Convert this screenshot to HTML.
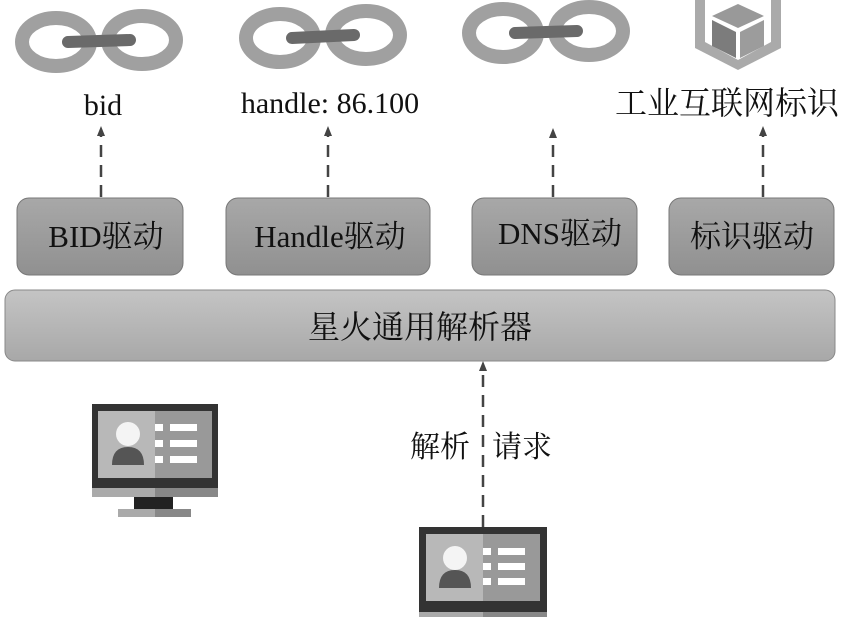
<!DOCTYPE html>
<html><head><meta charset="utf-8"><style>
html,body{margin:0;padding:0;background:#fff;}
svg{display:block;}
text{font-family:"Liberation Serif","Noto Serif CJK SC",serif;fill:#111;}
</style></head><body>
<svg width="848" height="617" viewBox="0 0 848 617" xmlns="http://www.w3.org/2000/svg">
<defs>
<linearGradient id="bx" x1="0" y1="0" x2="0" y2="1"><stop offset="0" stop-color="#a8a8a8"/><stop offset="1" stop-color="#909090"/></linearGradient>
<linearGradient id="bar" x1="0" y1="0" x2="0" y2="1"><stop offset="0" stop-color="#c4c4c4"/><stop offset="1" stop-color="#a8a8a8"/></linearGradient>
<marker id="ah" markerUnits="userSpaceOnUse" markerWidth="10" markerHeight="10" refX="5" refY="5" orient="auto"><path d="M0,1 L10,5 L0,9 z" fill="#444"/></marker>
</defs>
<!-- chains -->
<g fill="none" stroke="#a0a0a0" stroke-width="14">
<ellipse cx="56" cy="42" rx="34" ry="24"/><ellipse cx="142" cy="40" rx="34" ry="24"/>
<ellipse cx="280" cy="38" rx="34" ry="24"/><ellipse cx="366" cy="35" rx="34" ry="24"/>
<ellipse cx="503" cy="33" rx="34" ry="24"/><ellipse cx="589" cy="31" rx="34" ry="24"/>
</g>
<g stroke="#6a6a6a" stroke-width="12" stroke-linecap="round">
<line x1="68" y1="42" x2="130" y2="40"/><line x1="292" y1="38" x2="354" y2="35"/><line x1="515" y1="33" x2="577" y2="31"/>
</g>
<!-- cube -->
<g>
<polygon points="695,0 781,0 781,48 738,70 695,48" fill="#aaa"/>
<polygon points="705,0 771,0 771,42 738,60 705,42" fill="#fff"/>
<polygon points="712,16 738,4 764,16 738,28" fill="#999"/>
<polygon points="712,20 736,32 736,58 712,46" fill="#7c7c7c"/>
<polygon points="740,32 764,20 764,46 740,58" fill="#9c9c9c"/>
</g>
<!-- labels -->
<text x="103" y="115" font-size="30" text-anchor="middle">bid</text>
<text x="330" y="113" font-size="30" text-anchor="middle">handle: 86.100</text>
<text x="727" y="114" font-size="32" text-anchor="middle">工业互联网标识</text>
<!-- arrows -->
<g stroke="#444" stroke-width="2.5" stroke-dasharray="12,8" marker-end="url(#ah)">
<line x1="101" y1="197" x2="101" y2="131"/>
<line x1="328" y1="197" x2="328" y2="131"/>
<line x1="553" y1="197" x2="553" y2="133"/>
<line x1="763" y1="197" x2="763" y2="131"/>
<line x1="483" y1="527" x2="483" y2="366"/>
</g>
<!-- driver boxes -->
<g fill="url(#bx)" stroke="#777" stroke-width="1">
<rect x="17" y="198" width="166" height="77" rx="12"/>
<rect x="226" y="198" width="204" height="77" rx="12"/>
<rect x="472" y="198" width="165" height="77" rx="12"/>
<rect x="669" y="198" width="165" height="77" rx="12"/>
</g>
<g font-size="31" text-anchor="middle">
<text x="106" y="247">BID驱动</text>
<text x="330" y="247">Handle驱动</text>
<text x="560" y="244">DNS驱动</text>
<text x="752" y="247">标识驱动</text>
</g>
<rect x="5" y="290" width="830" height="71" rx="10" fill="url(#bar)" stroke="#888"/>
<text x="420" y="338" font-size="32" text-anchor="middle">星火通用解析器</text>
<!-- label -->
<text x="440" y="457" font-size="30" text-anchor="middle">解析</text>
<text x="522" y="457" font-size="30" text-anchor="middle">请求</text>
<!-- monitor 1 -->
<g>
<rect x="92" y="404" width="126" height="84" fill="#333"/>
<rect x="98" y="411" width="57" height="67" fill="#b8b8b8"/>
<rect x="155" y="411" width="57" height="67" fill="#999"/>
<rect x="92" y="488" width="63" height="9" fill="#aaa"/><rect x="155" y="488" width="63" height="9" fill="#888"/>
<rect x="134" y="497" width="39" height="12" fill="#222"/>
<rect x="118" y="509" width="37" height="8" fill="#aaa"/><rect x="155" y="509" width="36" height="8" fill="#888"/>
<circle cx="128" cy="434" r="12" fill="#f4f4f4"/>
<path d="M112,465 q0,-18 16,-18 q16,0 16,18 z" fill="#555"/>
<rect x="155" y="424" width="8" height="7" fill="#fff"/><rect x="170" y="424" width="27" height="7" fill="#fff"/>
<rect x="155" y="440" width="8" height="7" fill="#fff"/><rect x="170" y="440" width="27" height="7" fill="#fff"/>
<rect x="155" y="456" width="8" height="7" fill="#fff"/><rect x="170" y="456" width="27" height="7" fill="#fff"/>
</g>
<!-- monitor 2 -->
<g>
<rect x="419" y="527" width="128" height="85" fill="#333"/>
<rect x="426" y="534" width="57" height="67" fill="#b8b8b8"/>
<rect x="483" y="534" width="57" height="67" fill="#999"/>
<rect x="419" y="612" width="64" height="5" fill="#aaa"/><rect x="483" y="612" width="64" height="5" fill="#888"/>
<circle cx="455" cy="558" r="12" fill="#f4f4f4"/>
<path d="M439,588 q0,-18 16,-18 q16,0 16,18 z" fill="#555"/>
<rect x="483" y="548" width="8" height="7" fill="#fff"/><rect x="498" y="548" width="27" height="7" fill="#fff"/>
<rect x="483" y="563" width="8" height="7" fill="#fff"/><rect x="498" y="563" width="27" height="7" fill="#fff"/>
<rect x="483" y="578" width="8" height="7" fill="#fff"/><rect x="498" y="578" width="27" height="7" fill="#fff"/>
</g>
</svg>
</body></html>
